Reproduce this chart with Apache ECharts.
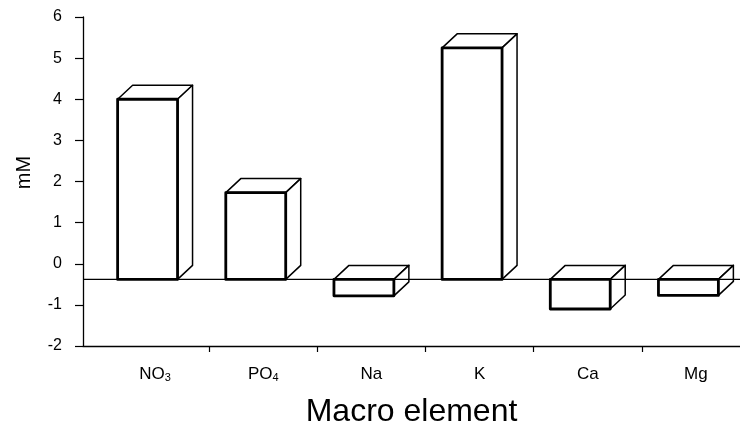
<!DOCTYPE html>
<html>
<head>
<meta charset="utf-8">
<script src="https://cdn.jsdelivr.net/npm/echarts@6/dist/echarts.min.js"></script>
<style>
  html, body { margin: 0; padding: 0; background: #fff; }
  #chart { width: 740px; height: 431px; }
</style>
</head>
<body>
<div id="chart"></div>
<script>
// Macro element concentration change (mM), drawn as boxes from a common baseline
const categories = ['NO3', 'PO4', 'Na', 'K', 'Ca', 'Mg'];
const values = [4.0, 1.73, -0.78, 5.25, -1.1, -0.77];
const baseline = -0.38;
const yTicks = { min: -2, max: 6, step: 1 };

const FONT = '"Liberation Sans", Arial, Helvetica, sans-serif';

// Box drawing: front face + top face + right side face
const DEPTH_X = 15, DEPTH_Y = 14, BOX_FRACTION = 0.554;

function renderBox(params, api) {
  const idx = api.value(0);
  const v = api.value(1);
  const top = api.coord([idx, v]);
  const base = api.coord([idx, baseline]);
  const band = api.size([1, 0])[0];
  const w = band * BOX_FRACTION;
  const xl = top[0] - DEPTH_X / 2 - w / 2;
  const xr = xl + w;
  const yTop = Math.min(top[1], base[1]);
  const yBot = Math.max(top[1], base[1]);
  const thin = { fill: '#fff', stroke: '#000', lineWidth: 1.5, lineJoin: 'round' };
  return {
    type: 'group',
    children: [
      {
        type: 'polygon',
        shape: { points: [[xl, yTop], [xr, yTop], [xr + DEPTH_X, yTop - DEPTH_Y], [xl + DEPTH_X, yTop - DEPTH_Y]] },
        style: thin
      },
      {
        type: 'polygon',
        shape: { points: [[xr, yTop], [xr + DEPTH_X, yTop - DEPTH_Y], [xr + DEPTH_X, yBot - DEPTH_Y], [xr, yBot]] },
        style: thin
      },
      {
        type: 'rect',
        shape: { x: xl, y: yTop, width: w, height: yBot - yTop },
        style: { fill: '#fff', stroke: '#000', lineWidth: 2.8, lineJoin: 'round' }
      }
    ]
  };
}

function labelText(name) {
  const m = name.match(/^(.*?)(\d+)$/);
  return m ? m[1] + '{sub|' + m[2] + '}' : name;
}

const chart = echarts.init(document.getElementById('chart'), null, { renderer: 'canvas' });

chart.setOption({
  backgroundColor: '#fff',
  animation: false,
  grid: [
    { left: 83, right: 0, top: 17, bottom: 85, outerBoundsMode: 'none' },
    { left: 101, width: 649, top: 17, bottom: 85, outerBoundsMode: 'none' }
  ],
  xAxis: [
    {
      gridIndex: 0, type: 'value', min: 0, max: 1,
      axisLine: { show: true, onZero: false, lineStyle: { color: '#000', width: 1.3 } },
      axisTick: { show: false }, axisLabel: { show: false }, splitLine: { show: false },
      name: 'Macro element', nameLocation: 'middle', nameGap: 50,
      nameTextStyle: { fontFamily: FONT, fontSize: 32, color: '#000' }
    },
    {
      gridIndex: 1, type: 'category', data: categories, position: 'bottom',
      axisLine: { show: false, onZero: false },
      axisTick: {
        show: true, length: 6, inside: false,
        interval: function (i) { return i > 0; },
        lineStyle: { color: '#000', width: 1.2 }
      },
      axisLabel: {
        interval: 0, margin: 20, color: '#000',
        fontFamily: FONT, fontSize: 17,
        formatter: labelText,
        rich: { sub: { fontFamily: FONT, fontSize: 11, color: '#000', verticalAlign: 'bottom' } }
      },
      splitLine: { show: false }
    }
  ],
  yAxis: [
    {
      gridIndex: 0, type: 'value', min: yTicks.min, max: yTicks.max, interval: yTicks.step,
      axisLine: { show: true, onZero: false, lineStyle: { color: '#000', width: 1.3 } },
      axisTick: { show: true, inside: false, length: 8, lineStyle: { color: '#000', width: 1.2 } },
      axisLabel: { margin: 21, color: '#000', fontFamily: FONT, fontSize: 16 },
      splitLine: { show: false },
      name: 'mM', nameLocation: 'middle', nameGap: 49, nameRotate: 90,
      nameTextStyle: { fontFamily: FONT, fontSize: 20, color: '#000', padding: [0, 0, 0, 18] }
    },
    {
      gridIndex: 1, type: 'value', min: yTicks.min, max: yTicks.max, interval: yTicks.step,
      show: false
    }
  ],
  series: [
    {
      // reference (zero-change) line across the plot
      type: 'line', xAxisIndex: 0, yAxisIndex: 0,
      data: [[0, baseline], [1, baseline]],
      symbol: 'none', silent: true,
      lineStyle: { color: '#000', width: 1.2 }
    },
    {
      type: 'custom', xAxisIndex: 1, yAxisIndex: 1,
      renderItem: renderBox,
      encode: { x: 0, y: 1 },
      data: values.map(function (v, i) { return [i, v]; }),
      clip: false
    }
  ]
});
</script>
</body>
</html>
